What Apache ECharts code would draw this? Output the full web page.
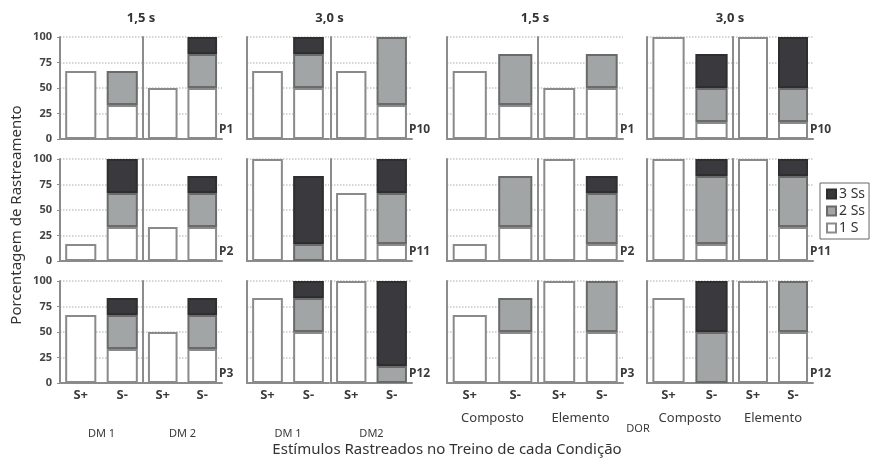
<!DOCTYPE html>
<html>
<head>
<meta charset="utf-8">
<script src="https://cdn.jsdelivr.net/npm/echarts@6/dist/echarts.min.js"></script>
<style>
  html, body { margin: 0; padding: 0; background: #fff; }
  #chart { width: 872px; height: 460px; }
</style>
</head>
<body>
<div id="chart"></div>
<script>
// categories
var barLabels = ['S+', 'S-'];
var colTitles = ['1,5 s', '3,0 s', '1,5 s', '3,0 s'];
var panelLabels = ['P1', 'P10', 'P1', 'P10', 'P2', 'P11', 'P2', 'P11', 'P3', 'P12', 'P3', 'P12'];
var groupLabels = [['DM 1', 'DM 2'], ['DM 1', 'DM2'], ['Composto', 'Elemento'], ['Composto', 'Elemento']];

// each row: [grupo1 S+, grupo1 S-, grupo2 S+, grupo2 S-]
var oneS = [
    [66.7, 33.3, 50, 50],
    [66.7, 50, 66.7, 33.3],
    [66.7, 33.3, 50, 50],
    [100, 16.7, 100, 16.7],
    [16.7, 33.3, 33.3, 33.3],
    [100, 0, 66.7, 16.7],
    [16.7, 33.3, 100, 16.7],
    [100, 16.7, 100, 33.3],
    [66.7, 33.3, 50, 33.3],
    [83.3, 50, 100, 0],
    [66.7, 50, 100, 50],
    [83.3, 0, 100, 50]
];
var twoSs = [
    [0, 33.3, 0, 33.3],
    [0, 33.3, 0, 66.7],
    [0, 50, 0, 33.3],
    [0, 33.3, 0, 33.3],
    [0, 33.3, 0, 33.3],
    [0, 16.7, 0, 50],
    [0, 50, 0, 50],
    [0, 66.7, 0, 50],
    [0, 33.3, 0, 33.3],
    [0, 33.3, 0, 16.7],
    [0, 33.3, 0, 50],
    [0, 50, 0, 50]
];
var threeSs = [
    [0, 0, 0, 16.7],
    [0, 16.7, 0, 0],
    [0, 0, 0, 0],
    [0, 33.3, 0, 50],
    [0, 33.3, 0, 16.7],
    [0, 66.7, 0, 33.3],
    [0, 0, 0, 16.7],
    [0, 16.7, 0, 16.7],
    [0, 16.7, 0, 16.7],
    [0, 16.7, 0, 83.3],
    [0, 0, 0, 0],
    [0, 50, 0, 50]
];

// layout
var subLeft = [[60, 143], [247, 331], [447, 538], [647, 733]];
var subRight = [[143, 222], [329, 412], [538, 623], [733, 813]];
var rowTop = [37, 159, 281];
var rowH = 102;
var FONT = '"Noto Sans", "Open Sans", sans-serif';

var levels = [
    { name: '1 S', data: oneS, color: '#ffffff', border: '#8a8a8a' },
    { name: '2 Ss', data: twoSs, color: '#a2a5a5', border: '#6a6a6a' },
    { name: '3 Ss', data: threeSs, color: '#3a3a3e', border: '#2e2e2e' }
];

var grids = [], xAxes = [], yAxes = [], series = [], graphics = [];

for (var p = 0; p < 12; p++) {
    var r = Math.floor(p / 4), c = p % 4;
    for (var g = 0; g < 2; g++) {
        var idx = p * 2 + g;
        grids.push({
            left: subLeft[c][g],
            width: subRight[c][g] - subLeft[c][g],
            top: rowTop[r],
            height: rowH
        });
        xAxes.push({
            type: 'category',
            gridIndex: idx,
            data: barLabels,
            axisLine: { lineStyle: { color: '#8c8c8c', width: 2 } },
            axisTick: { show: false },
            axisLabel: {
                show: r == 2,
                margin: 6,
                fontFamily: FONT,
                fontSize: 13,
                fontWeight: 'bold',
                color: '#3a3a3a'
            },
            name: r == 2 ? groupLabels[c][g] : '',
            nameLocation: 'middle',
            nameGap: c < 2 ? 45 : 29,
            nameTextStyle: {
                fontFamily: FONT,
                fontSize: c < 2 ? 11 : 13,
                color: '#3a3a3a'
            }
        });
        yAxes.push({
            type: 'value',
            gridIndex: idx,
            min: 0,
            max: 100,
            interval: 25,
            axisLine: { show: true, lineStyle: { color: '#8c8c8c', width: 2 } },
            axisTick: { show: c == 0 && g == 0, length: 3, lineStyle: { color: '#8c8c8c' } },
            axisLabel: {
                show: c == 0 && g == 0,
                margin: 8,
                fontFamily: FONT,
                fontSize: 11,
                fontWeight: 'bold',
                color: '#444'
            },
            splitLine: { show: true, lineStyle: { color: '#c8c8c8', type: 'dotted', width: 1.5 } }
        });
        levels.forEach(function (lv) {
            var vals = [lv.data[p][g * 2], lv.data[p][g * 2 + 1]].map(function (v) {
                return v == 0 ? '-' : v;
            });
            series.push({
                name: lv.name,
                type: 'bar',
                stack: 's' + idx,
                xAxisIndex: idx,
                yAxisIndex: idx,
                barWidth: '75%',
                data: vals,
                itemStyle: { color: lv.color, borderColor: lv.border, borderWidth: 2 },
                emphasis: { disabled: true }
            });
        });
    }
    // participant label
    graphics.push({
        type: 'text',
        left: subRight[c][1] - 3,
        top: rowTop[r] + rowH - 15,
        style: { text: panelLabels[p], font: 'bold 12px ' + FONT, fill: '#3a3a3a' }
    });
}

for (var c2 = 0; c2 < 4; c2++) {
    graphics.push({
        type: 'text',
        x: (subLeft[c2][0] + subRight[c2][1]) / 2,
        y: 18,
        style: {
            text: colTitles[c2], font: 'bold 13px ' + FONT, fill: '#333',
            align: 'center', verticalAlign: 'middle'
        }
    });
}

graphics.push({
    type: 'text', x: 638, y: 429,
    style: { text: 'DOR', font: '11px ' + FONT, fill: '#3a3a3a', align: 'center', verticalAlign: 'middle' }
});
graphics.push({
    type: 'text', x: 447, y: 450,
    style: {
        text: 'Estímulos Rastreados no Treino de cada Condição', font: '15px ' + FONT,
        fill: '#333', align: 'center', verticalAlign: 'middle'
    }
});
graphics.push({
    type: 'text', x: 17, y: 215, rotation: Math.PI / 2,
    style: {
        text: 'Porcentagem de Rastreamento', font: '15px ' + FONT,
        fill: '#333', align: 'center', verticalAlign: 'middle'
    }
});

var chart = echarts.init(document.getElementById('chart'));
chart.setOption({
    animation: false,
    backgroundColor: '#fff',
    legend: {
        data: ['3 Ss', '2 Ss', '1 S'],
        orient: 'vertical',
        left: 820,
        top: 183,
        padding: [4, 4, 4, 6],
        itemGap: 3,
        itemWidth: 9,
        itemHeight: 9,
        icon: 'rect',
        borderColor: '#666',
        borderWidth: 1,
        selectedMode: false,
        textStyle: { fontFamily: FONT, fontSize: 14, color: '#333', padding: [0, 0, 0, -2] }
    },
    grid: grids,
    xAxis: xAxes,
    yAxis: yAxes,
    series: series,
    graphic: graphics
});
</script>
</body>
</html>
